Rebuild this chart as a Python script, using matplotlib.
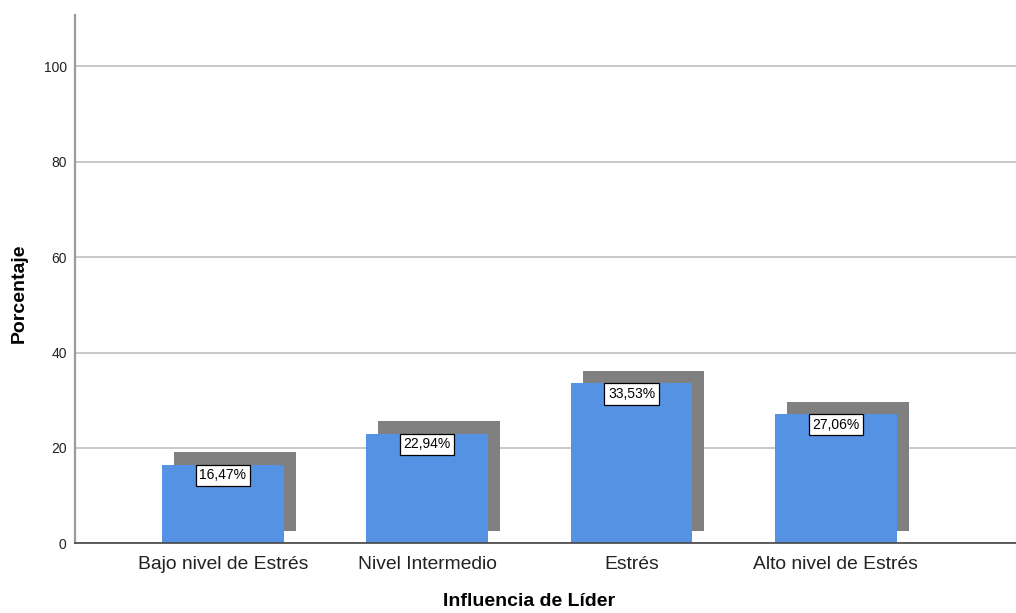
import matplotlib
matplotlib.use("Agg")
import matplotlib.pyplot as plt
import matplotlib.transforms as mtransforms

categories = ["Bajo nivel de Estrés", "Nivel Intermedio", "Estrés", "Alto nivel de Estrés"]
percentages = [16.47, 22.94, 33.53, 27.06]
y_ticks = [0, 20, 40, 60, 80, 100]

plt.rcParams["font.family"] = ["Liberation Sans", "DejaVu Sans"]

DPI = 100
fig = plt.figure(figsize=(10.16, 6.13), dpi=DPI)
# axes box in pixel coordinates: left 75, right 1016, bottom 543, top 15
W, H = 1016, 613
ax = fig.add_axes([75 / W, (H - 543.3) / H, (1016 - 75) / W, (543.3 - 15) / H])

x = list(range(len(categories)))
bar_w = 0.597
blue = "#5592E3"
shadow = "#808080"

# drop shadow: same bars shifted up and to the right
shadow_tf = mtransforms.offset_copy(ax.transData, fig=fig, x=12, y=12.5, units="dots")
ax.bar(x, percentages, width=bar_w, color=shadow, transform=shadow_tf, zorder=2)
ax.bar(x, percentages, width=bar_w, color=blue, zorder=3)

for xi, v in zip(x, percentages):
    ax.text(xi, v - 0.75, f"{v:.2f}".replace(".", ",") + "%", ha="center", va="top",
            fontsize=10, zorder=5,
            bbox=dict(boxstyle="square,pad=0.26", fc="white", ec="black", lw=0.9))

ax.set_xlim(-0.724, 3.882)
ax.set_ylim(0, 110.8)
ax.set_yticks(y_ticks)
ax.set_yticklabels([str(t) for t in y_ticks], fontsize=10)
ax.set_xticks(x)
ax.set_xticklabels(categories, fontsize=13.9)
ax.tick_params(axis="both", length=0, colors="#222222")
ax.tick_params(axis="y", pad=6)
ax.tick_params(axis="x", pad=9)

ax.yaxis.grid(True, color="#c8c8c8", lw=1.4, zorder=0)
ax.set_axisbelow(True)
for s in ("top", "right"):
    ax.spines[s].set_visible(False)
ax.spines["left"].set_color("#9a9a9a")
ax.spines["left"].set_linewidth(1.6)
ax.spines["bottom"].set_color("#444444")
ax.spines["bottom"].set_linewidth(1.2)
ax.spines["bottom"].set_zorder(4)

fig.text(529 / W, 1 - 601 / H, "Influencia de Líder", ha="center", va="center",
         fontsize=14, fontweight="bold")
fig.text(19 / W, 1 - 293 / H, "Porcentaje", ha="center", va="center",
         rotation=90, fontsize=14, fontweight="bold")

fig.savefig("out.png", dpi=DPI)
